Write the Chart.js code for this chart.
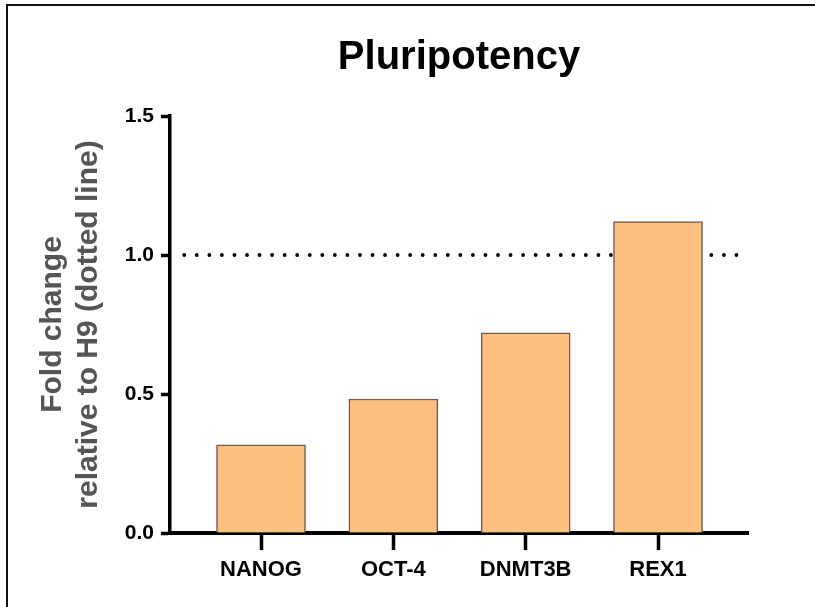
<!DOCTYPE html>
<html>
<head>
<meta charset="utf-8">
<script src="https://cdn.jsdelivr.net/npm/chart.js@4.4.1/dist/chart.umd.min.js"></script>
<style>
  html, body { margin: 0; padding: 0; background: #fff; }
  #wrap { position: relative; width: 815px; height: 607px; overflow: hidden; }
  #frame { position: absolute; left: 6px; top: 4px; width: 900px; height: 700px;
           border-top: 2px solid #111; border-left: 2px solid #111; pointer-events: none; }
  canvas { position: absolute; left: 0; top: 0; }
</style>
</head>
<body>
<div id="wrap">
  <canvas id="chart" width="815" height="607"></canvas>
  <div id="frame"></div>
</div>
<script>
// === DATA ===
const genes = ["NANOG", "OCT-4", "DNMT3B", "REX1"];
const foldChange = [0.317, 0.482, 0.72, 1.12];
const yTicks = [0, 0.5, 1.0, 1.5];
const referenceLevel = 1.0;            // H9 = 1 (dotted line)
const referenceSpan = [-0.58, 3.6];    // in category units

const FONT = "'Liberation Sans', Arial, sans-serif";

let ctx = document.getElementById("chart").getContext("2d");
let chart = new Chart(ctx, {
    type: "bar",
    data: {
        datasets: [
            {
                type: "bar",
                data: genes.map((g, i) => ({ x: i, y: foldChange[i] })),
                backgroundColor: "#FEC07E",
                borderColor: "#6e5c4c",
                borderWidth: 1.5,
                barThickness: 89,
                order: 1
            },
            {
                type: "line",
                data: referenceSpan.map(x => ({ x: x, y: referenceLevel })),
                borderColor: "#000",
                borderWidth: 3.8,
                borderDash: [0, 12.55],
                borderCapStyle: "round",
                pointRadius: 0,
                fill: false,
                order: 2
            }
        ]
    },
    options: {
        responsive: false,
        animation: false,
        layout: { padding: { left: 0, right: 67, top: 0, bottom: 0 } },
        plugins: {
            legend: { display: false },
            tooltip: { enabled: false },
            title: {
                display: true,
                text: "Pluripotency",
                fullSize: false,
                color: "#000",
                font: { family: FONT, size: 40, weight: "bold" },
                padding: { top: 34, bottom: 34 }
            }
        },
        scales: {
            x: {
                type: "linear",
                offset: false,
                min: -0.6877,
                max: 3.68,
                z: 1,
                afterFit: s => { s.height = 74; },
                afterBuildTicks: s => { s.ticks = genes.map((g, i) => ({ value: i })); },
                grid: { offset: false, drawOnChartArea: false, drawTicks: true, tickLength: 17, tickWidth: 3.5, tickColor: "#000" },
                border: { display: true, color: "#000", width: 4 },
                ticks: {
                    padding: 7,
                    color: "#000",
                    font: { family: FONT, size: 22, weight: "bold" },
                    callback: v => genes[v]
                }
            },
            y: {
                min: 0,
                max: 1.5,
                z: 1,
                afterFit: s => { s.width = 170; },
                afterBuildTicks: s => { s.ticks = yTicks.map(v => ({ value: v })); },
                grid: { drawOnChartArea: false, drawTicks: true, tickLength: 9, tickWidth: 3.5, tickColor: "#000" },
                border: { display: true, color: "#000", width: 3.5 },
                ticks: {
                    padding: 7,
                    color: "#000",
                    font: { family: FONT, size: 21, weight: "bold" },
                    callback: v => v.toFixed(1)
                },
                title: {
                    display: true,
                    text: ["Fold change", "relative to H9 (dotted line)"],
                    color: "#555",
                    font: { family: FONT, size: 30, weight: "bold" },
                    padding: { top: 35, bottom: 0 }
                }
            }
        }
    }
});
</script>
</body>
</html>
